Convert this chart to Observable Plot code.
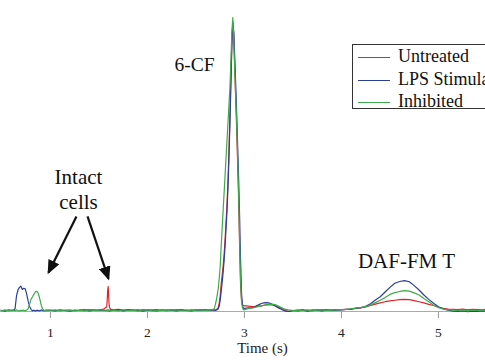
<!DOCTYPE html>
<html><head><meta charset="utf-8">
<script src="https://cdn.jsdelivr.net/npm/d3@7"></script>
<script src="https://cdn.jsdelivr.net/npm/@observablehq/plot@0.6"></script>
<style>
html,body{margin:0;padding:0;background:#fff;overflow:hidden;width:485px;height:360px}
#wrap{position:relative;width:485px;height:360px;overflow:hidden}
#legend{position:absolute;left:352px;top:44px;width:170px;height:63px;border:1px solid #333;background:#fff;font-family:"Liberation Serif",serif;font-size:18px;color:#111}
.row{position:absolute;left:0;height:22px;line-height:22px;white-space:nowrap}
.sw{display:inline-block;width:32px;height:0;border-top:1.3px solid;vertical-align:middle;margin-left:5px;margin-right:8px}
</style>
</head><body><div id="wrap"></div>
<script>
// Time axis (s)
const time = [
 0.49,0.53,0.57,0.60,
 0.62,0.635,0.65,0.665,0.68,0.695,0.71,0.725,0.74,0.755,0.77,0.785,0.80,0.815,0.83,0.845,0.86,0.875,0.89,0.905,0.92,0.935,0.95,
 1.00,1.05,1.10,1.15,1.20,1.25,1.30,1.35,1.40,1.45,1.50,
 1.55,1.57,1.58,1.585,1.59,1.595,1.60,1.605,1.61,1.62,
 1.65,1.70,1.75,1.80,1.85,1.90,1.95,2.00,2.05,2.10,2.15,2.20,2.25,2.30,2.35,2.40,2.45,2.50,2.55,2.60,
 2.63,2.66,2.68,
 2.69,2.70,2.71,2.72,2.73,2.74,2.75,2.76,2.77,2.78,2.79,2.80,2.81,2.82,2.83,2.84,2.85,2.86,2.87,2.88,2.89,2.90,2.91,2.92,2.93,2.94,2.95,2.96,2.97,2.98,2.99,3.00,
 3.02,3.04,3.06,3.08,
 3.10,3.125,3.15,3.175,3.20,3.225,3.25,3.275,3.30,3.325,3.35,3.375,3.40,3.425,3.45,3.475,3.50,
 3.55,3.60,3.65,3.70,3.75,3.80,3.85,3.90,3.95,4.00,4.05,4.10,4.15,4.20,
 4.25,4.30,4.35,4.40,4.45,4.50,4.55,4.60,4.65,4.70,4.75,4.80,4.85,4.90,4.95,5.00,5.05,5.10,
 5.15,5.20,5.25,5.30,5.35,5.40,5.45,5.49
];
// Signal (a.u.)
const untreated = [
 null,null,null,null,
 null,null,null,null,null,null,null,null,null,null,null,null,null,null,null,null,null,null,null,null,null,null,null,
 null,null,null,null,null,null,0.2,0.1,0.3,0.1,0.2,
 0.5,1.0,1.2,3.5,7.0,8.2,5.0,1.8,1.0,0.4,
 0.2,0.4,0.1,0.3,0.2,0,0.3,0.1,0.2,0.3,0,0.2,0.1,0.3,0.2,0,0.2,0.1,0.3,0.1,
 0.2,0.1,0.2,
 0.2,0.2,0.3,0.5,1,2.5,5,9,12,15,19,24,30,36,44,54,66,79,92,98.5,94,83,72,62,50,38,22,9,3.5,2.0,1.7,1.6,
 1.6,1.5,1.4,1.3,
 1.3,1.4,1.5,1.6,1.8,1.9,1.9,1.9,1.8,1.6,1.2,0.8,0.4,0,-0.3,-0.2,0,
 0.1,0.2,0,0.2,0.1,0.3,0.1,0.2,0.3,0.3,0.4,0.5,0.7,0.9,
 1.2,1.7,2.2,2.6,3.0,3.3,3.5,3.7,3.8,3.7,3.4,3.0,2.6,2.1,1.7,1.1,0.7,0.5,
 0.4,0.3,0.5,0.2,0.4,0.3,0.2,0.4
];
const lps = [
 0.1,-0.2,0.2,0.0,
 0.1,0.6,5.0,7.0,7.9,8.3,7.2,7.6,7.4,5.6,3.2,1.4,0.4,-0.1,0.1,-0.2,0.1,0,-0.1,0.2,0,-0.1,0.1,
 0.1,-0.1,0.2,0,-0.2,0.1,0,0.2,-0.1,0.1,0,
 0.1,-0.1,0,0.2,0.1,-0.1,0,0.1,-0.2,0.1,
 0,0.2,-0.1,0.1,0,0.2,-0.2,0.1,0,-0.1,0.2,0,0.1,-0.1,0.2,0,-0.1,0.1,0,0.2,
 0,0.1,0.1,
 0.1,0,0.2,0.3,0.6,1.5,3.5,6.5,9.5,13,17,22,28,34,42,52,64,77,90,98,95,86,77,67,56,45,32,17,6,1.5,0.8,0.7,
 0.8,0.9,0.9,1.0,
 1.1,1.6,2.0,2.4,2.6,2.7,2.6,2.3,1.9,1.4,0.9,0.5,0.1,-0.2,-0.3,-0.2,0,
 -0.1,0.1,-0.2,0,0.1,-0.1,0.2,0,0.1,0.2,0.4,0.5,0.8,1.0,
 1.4,2.3,3.6,4.7,6.3,7.9,9.3,9.9,10.2,9.8,8.5,7.0,5.3,3.8,2.5,1.3,0.5,0.1,
 -0.2,-0.3,-0.1,-0.4,-0.2,-0.3,-0.1,-0.3
];
const inhibited = [
 -0.1,0.2,-0.1,0.1,
 0.1,-0.1,0.2,0,-0.2,0.1,0,0.1,-0.1,0.2,0.6,2.2,3.9,4.6,5.6,6.4,6.5,5.8,4.0,1.8,0.5,0.1,-0.1,
 0,0.2,-0.1,0.1,0.2,-0.1,0.1,-0.1,0.2,0,0.1,
 0.2,0,0.1,-0.1,0,0.2,0.1,0,0.1,-0.1,
 0.1,-0.1,0.2,0,0.1,-0.2,0.1,0.2,-0.1,0,0.1,-0.1,0.2,0.1,0,0.2,-0.1,0.1,0.2,0,
 0.1,0.2,0.4,
 0.8,2,3.5,5.5,7.5,11,15,22,28,34,40,46,52,58,64,70,76,85,95,100,92,82,73,64,52,40,24,10,3,0.8,0.3,0.2,
 0.5,0.6,0.8,0.9,
 1.0,1.2,1.4,1.6,1.8,2.0,2.1,2.2,2.1,1.9,1.5,1.1,0.7,0.4,0.2,0.1,0,
 0.1,0,0.2,-0.1,0.1,0.2,0,0.1,0.2,0.3,0.4,0.6,0.8,1.0,
 1.3,1.9,2.7,3.5,4.4,5.5,6.1,6.5,6.8,6.6,6.0,5.3,4.1,3.0,1.8,1.0,0.5,0.2,
 0.1,0,0.2,-0.1,0.1,0,0.2,0
];
const seriesNames = ["Untreated", "LPS Stimulated", "Inhibited"];
const seriesColors = ["#e3232b", "#2c3e98", "#3dab4a"];
const xTicks = [1, 2, 3, 4, 5];
const xDomain = [0.485, 5.485];
const yDomain = [-0.34, 100];
const xTitle = {t: 3.186, text: "Time (s)"};

// annotations (data coordinates)
const labels = [
  {t: 2.485, v: 84.2, text: "6-CF", size: 19.5},
  {t: 1.289, v: 41.6, text: "Intact\ncells", size: 21},
  {t: 4.67, v: 17.1, text: "DAF-FM T", size: 21}
];
const arrows = [
  {x1: 1.268, y1: 32.1, x2: 0.98, y2: 13.0},
  {x1: 1.382, y1: 32.1, x2: 1.598, y2: 10.9}
];

const allSeries = [untreated, lps, inhibited];
const rows = allSeries.map((arr, k) =>
  time.map((t, i) => ({t, v: arr[i], s: seriesNames[k]})).filter(d => d.v != null)
);

const chart = Plot.plot({
  width: 485, height: 360,
  marginLeft: 0, marginRight: 0, marginTop: 17, marginBottom: 49,
  style: {fontFamily: "Liberation Serif, serif", fontSize: "14px", color: "#222", background: "#fff"},
  x: {domain: xDomain, ticks: xTicks, tickSize: 7, tickPadding: 9, tickFormat: d => String(d), label: null},
  y: {domain: yDomain, axis: null},
  marks: [
    Plot.ruleY([yDomain[0]], {stroke: "#aaa", strokeWidth: 1}),
    ...rows.map((r, k) => Plot.line(r, {x: "t", y: "v", stroke: seriesColors[k], strokeWidth: 1.2})),
    Plot.link(arrows, {x1: "x1", y1: "y1", x2: "x2", y2: "y2", stroke: "#111", strokeWidth: 2.2}),
    ...labels.map(l => Plot.text([l], {x: "t", y: "v", text: "text", fontSize: l.size, lineHeight: 1.2, fill: "#111"})),
    Plot.text([xTitle], {x: "t", text: "text", frameAnchor: "bottom", dy: 41, fontSize: 15, fill: "#222"})
  ]
});
const wrap = document.getElementById("wrap");
wrap.appendChild(chart);

const ns = "http://www.w3.org/2000/svg";
const svg = chart.tagName.toLowerCase() === "svg" ? chart : chart.querySelector("svg");

// axis styling: gray ticks, larger serif tick labels
svg.querySelectorAll('[aria-label^="x-axis"]').forEach(g => {
  g.querySelectorAll("line, path").forEach(l => l.setAttribute("stroke", "#999"));
  g.querySelectorAll("text").forEach(t => {
    t.style.fontSize = "13.5px";
    t.style.fontFamily = "'Liberation Serif', serif";
    t.setAttribute("fill", "#222");
  });
});

// filled arrowheads on the annotation arrows
const defs = document.createElementNS(ns, "defs");
const marker = document.createElementNS(ns, "marker");
marker.setAttribute("id", "ahead");
marker.setAttribute("viewBox", "0 0 14 12");
marker.setAttribute("refX", "12");
marker.setAttribute("refY", "6");
marker.setAttribute("markerWidth", "14");
marker.setAttribute("markerHeight", "12");
marker.setAttribute("markerUnits", "userSpaceOnUse");
marker.setAttribute("orient", "auto");
const mp = document.createElementNS(ns, "path");
mp.setAttribute("d", "M0,0L14,6L0,12Z");
mp.setAttribute("fill", "#111");
marker.appendChild(mp);
defs.appendChild(marker);
svg.insertBefore(defs, svg.firstChild);
svg.querySelectorAll('g[aria-label="link"] path, g[aria-label="link"] line').forEach(p => p.setAttribute("marker-end", "url(#ahead)"));

// legend (extends past the right edge, as in the source figure)
const legend = document.createElement("div");
legend.id = "legend";
seriesNames.forEach((name, k) => {
  const row = document.createElement("div");
  row.className = "row";
  row.style.top = (k * 22.5) + "px";
  const sw = document.createElement("span");
  sw.className = "sw";
  sw.style.borderTopColor = seriesColors[k];
  row.appendChild(sw);
  row.appendChild(document.createTextNode(name));
  legend.appendChild(row);
});
wrap.appendChild(legend);
</script>
</body></html>
